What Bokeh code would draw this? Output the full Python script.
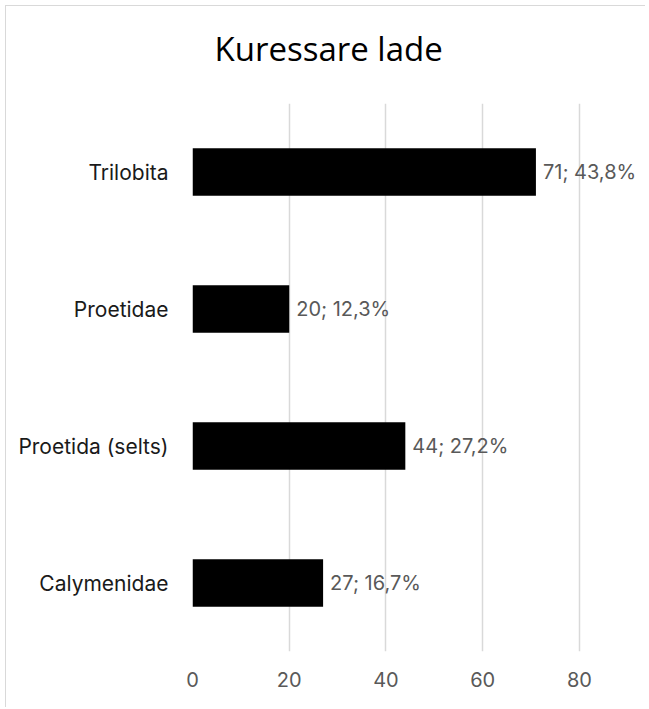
from bokeh.plotting import figure
from bokeh.models import ColumnDataSource, FixedTicker, Range1d
from bokeh.core.properties import value
from bokeh.embed import file_html
from bokeh.resources import INLINE

title_text = "Kuressare lade"
categories = ["Calymenidae", "Proetida (selts)", "Proetidae", "Trilobita"]
counts = [27, 44, 20, 71]
shares = ["16,7%", "27,2%", "12,3%", "43,8%"]
x_ticks = [0, 20, 40, 60, 80]

labels = [f"{c}; {s}" for c, s in zip(counts, shares)]
src = ColumnDataSource(dict(cat=categories, val=counts, lab=labels))

FONT = "Open Sans"
LFONT = "Inter"

p = figure(width=640, height=702, y_range=categories, x_range=Range1d(0, 92),
           output_backend="svg", toolbar_location=None,
           min_border_left=186, min_border_right=9, min_border_top=97,
           min_border_bottom=57)
p.styles = {"margin-left": "5px", "margin-top": "5px",
            "border-left": "1px solid #d9d9d9", "border-top": "1px solid #d9d9d9"}

# trailing empty line lifts the title towards the top of the chart
p.title.text = title_text + "\n"
p.title.align = "left"
p.title.offset = 22
p.title.text_font = FONT
p.title.text_font_size = "33px"
p.title.text_font_style = "normal"
p.title.text_color = "#000000"
p.title.text_line_height = 0.73
p.title.standoff = 0

p.hbar(y="cat", right="val", left=0, height=0.345, source=src,
       fill_color="#000000", line_color=None)
p.text(x="val", y="cat", text="lab", source=src, x_offset=7,
       text_align="left", text_baseline="middle",
       text_font=value(LFONT), text_font_size="20px", text_color="#595959")

p.outline_line_color = None
p.background_fill_color = "white"
p.border_fill_color = "white"

p.xaxis.ticker = FixedTicker(ticks=x_ticks)
p.xaxis.axis_line_color = None
p.xaxis.major_tick_line_color = None
p.xaxis.minor_tick_line_color = None
p.xaxis.major_label_text_font = LFONT
p.xaxis.major_label_text_font_size = "20px"
p.xaxis.major_label_text_color = "#595959"
p.xaxis.major_label_standoff = 14

p.yaxis.axis_line_color = None
p.yaxis.major_tick_line_color = None
p.yaxis.major_label_text_font = LFONT
p.yaxis.major_label_text_font_size = "21px"
p.yaxis.major_label_text_color = "#1a1a1a"
p.yaxis.major_label_standoff = 18

p.xgrid.ticker = FixedTicker(ticks=x_ticks)
p.xgrid.grid_line_color = "#d9d9d9"
p.xgrid.grid_line_width = 1.5
p.ygrid.grid_line_color = None

open("out.html", "w").write(file_html(p, INLINE))
